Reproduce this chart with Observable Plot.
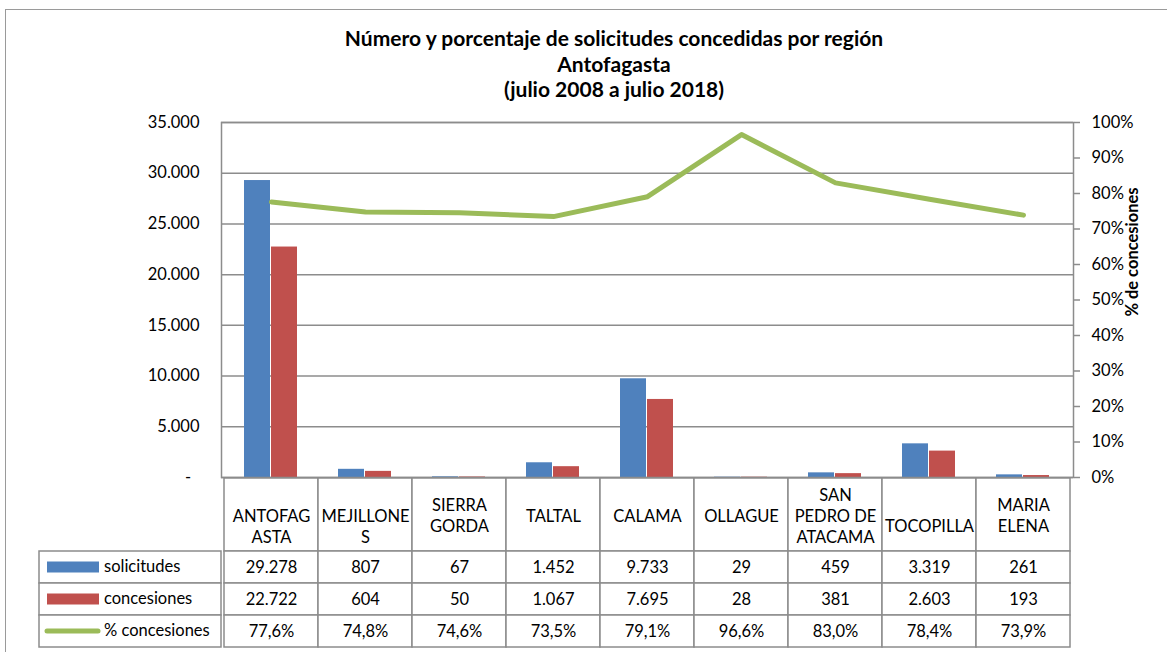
<!DOCTYPE html>
<html>
<head>
<meta charset="utf-8">
<script src="https://cdn.jsdelivr.net/npm/d3@7"></script>
<script src="https://cdn.jsdelivr.net/npm/@observablehq/plot@0.6"></script>
<style>
  html, body { margin: 0; padding: 0; background: #fff; }
  #page { position: relative; width: 1167px; height: 652px; overflow: hidden; font-family: Lato, "Open Sans", sans-serif; color: #000; }
  #border { position: absolute; left: 5px; top: 9px; width: 1400px; height: 800px; border-top: 1.5px solid #9a9a9a; border-left: 1.5px solid #9a9a9a; }
  #title { position: absolute; left: 0; top: 25px; width: 1228px; text-align: center; font-weight: bold; font-size: 21px; line-height: 25.5px; }
  #charts { position: absolute; left: 0; top: 100px; width: 1167px; }
  #charts svg { display: block; }
</style>
</head>
<body>
<div id="page">
  <div id="border"></div>
  <div id="title"></div>
  <div id="charts"></div>
</div>
<script>
// ---- data ----
const titleLines = ["Número y porcentaje de solicitudes concedidas por región", "Antofagasta", "(julio 2008 a julio 2018)"];
const categories = ["ANTOFAGASTA", "MEJILLONES", "SIERRA GORDA", "TALTAL", "CALAMA", "OLLAGUE", "SAN PEDRO DE ATACAMA", "TOCOPILLA", "MARIA ELENA"];
const headerLabels = ["\u00a0\nANTOFAG\nASTA", "\u00a0\nMEJILLONE\nS", "SIERRA\nGORDA", "TALTAL", "CALAMA", "OLLAGUE", "SAN\nPEDRO DE\nATACAMA", "\u00a0\nTOCOPILLA", "MARIA\nELENA"];
const solicitudes = [29278, 807, 67, 1452, 9733, 29, 459, 3319, 261];
const concesiones = [22722, 604, 50, 1067, 7695, 28, 381, 2603, 193];
const pctConcesiones = [77.6, 74.8, 74.6, 73.5, 79.1, 96.6, 83.0, 78.4, 73.9];
const seriesNames = ["solicitudes", "concesiones", "% concesiones"];
const yTicks = [0, 5000, 10000, 15000, 20000, 25000, 30000, 35000];
const pctTicks = [0, 10, 20, 30, 40, 50, 60, 70, 80, 90, 100];
const rightAxisTitle = "% de concesiones";

// ---- styles ----
const blue = "#4F81BD", red = "#C0504D", green = "#9BBB59", gray = "#8c8c8c";
const font = "Lato, 'Open Sans', sans-serif";
const FS = 16.5;
const yMax = 35000;
const pctToY = p => p / 100 * yMax;
const fmtNum = d => d3.format(",")(d).replace(/,/g, ".");
const fmtPct = d => d.toFixed(1).replace(".", ",") + "%";
const ML = 221, MR = 94, W = 1167;
const baseStyle = {fontFamily: font, fontSize: FS + "px", color: "#000", overflow: "visible", background: "transparent"};

document.getElementById("title").innerHTML = titleLines.map(t => `<div>${t}</div>`).join("");

const rows = categories.map((c, i) => ({cat: c, label: headerLabels[i], sol: solicitudes[i], con: concesiones[i], pct: pctConcesiones[i]}));

// ---- chart ----
const chart = Plot.plot({
  width: W, height: 378,
  marginTop: 22, marginBottom: 1, marginLeft: ML, marginRight: MR,
  style: baseStyle,
  x: {type: "band", domain: categories, padding: 0, axis: null},
  y: {domain: [0, yMax], axis: null, label: null},
  marks: [
    Plot.gridY({ticks: yTicks, stroke: gray, strokeOpacity: 1, strokeWidth: 1.5}),
    Plot.barY(rows, {x: "cat", y: "sol", fill: blue, insetLeft: 20, insetRight: 48}),
    Plot.barY(rows, {x: "cat", y: "con", fill: red, insetLeft: 47, insetRight: 21}),
    Plot.frame({stroke: gray, strokeWidth: 1.5}),
    Plot.line(rows, {x: "cat", y: d => pctToY(d.pct), stroke: green, strokeWidth: 5, strokeLinecap: "round", strokeLinejoin: "round"}),
    Plot.axisY({anchor: "left", ticks: yTicks, tickSize: 0, tickPadding: 22, label: null, fontSize: FS,
      tickFormat: d => d === 0 ? "-\u00a0\u00a0" : fmtNum(d)}),
    Plot.axisY({anchor: "right", ticks: pctTicks.map(pctToY), tickSize: 6, tickPadding: 12, label: null, fontSize: FS,
      stroke: gray, strokeWidth: 1.5, tickFormat: d => Math.round(d / yMax * 100) + "%"}),
    Plot.text([rightAxisTitle], {frameAnchor: "right", textAnchor: "middle", rotate: -90, dx: 59, dy: -48, fontWeight: "bold", fontSize: 16.5})
  ]
});

// ---- header row ----
const header = Plot.plot({
  width: W, height: 73,
  marginTop: 0, marginBottom: 0, marginLeft: ML, marginRight: MR,
  style: baseStyle,
  x: {type: "band", domain: categories, padding: 0, axis: null},
  marks: [
    Plot.cell(rows, {x: "cat", fill: "white", stroke: gray, strokeWidth: 1.5}),
    Plot.text(rows, {x: "cat", text: "label", lineAnchor: "middle", lineHeight: 1.28, fontSize: FS, fill: "#000"})
  ]
});

// ---- data table ----
const tableData = rows.flatMap(r => [
  {cat: r.cat, row: seriesNames[0], text: fmtNum(r.sol)},
  {cat: r.cat, row: seriesNames[1], text: fmtNum(r.con)},
  {cat: r.cat, row: seriesNames[2], text: fmtPct(r.pct)}
]);
const swatchColors = [blue, red, green];
const legendLeft = 39;

function legendColumn(index, scales, values, dimensions) {
  const g = d3.create("svg:g");
  const y = scales.y;
  const mt = dimensions && dimensions.marginTop != null ? dimensions.marginTop : 0;
  const mb = dimensions && dimensions.marginBottom != null ? dimensions.marginBottom : 1;
  const h = dimensions && dimensions.height ? dimensions.height : 97;
  const ml = dimensions && dimensions.marginLeft != null ? dimensions.marginLeft : ML;
  const bw = y && y.bandwidth ? y.bandwidth() : (h - mt - mb) / seriesNames.length;
  seriesNames.forEach((name, i) => {
    const y0 = y ? y(name) : mt + i * bw;
    g.append("rect").attr("x", legendLeft).attr("y", y0).attr("width", ml - legendLeft).attr("height", bw)
      .attr("fill", "white").attr("stroke", gray).attr("stroke-width", 1.5);
    const cy = y0 + bw / 2;
    if (i < 2) {
      g.append("rect").attr("x", 47).attr("y", cy - 5.5).attr("width", 52).attr("height", 11).attr("fill", swatchColors[i]);
    } else {
      g.append("line").attr("x1", 47).attr("x2", 98).attr("y1", cy).attr("y2", cy)
        .attr("stroke", swatchColors[i]).attr("stroke-width", 5).attr("stroke-linecap", "round");
    }
    g.append("text").attr("x", 104).attr("y", cy).attr("dy", "0.32em").attr("fill", "#000")
      .attr("text-anchor", "start").attr("font-size", FS).text(name);
  });
  return g.node();
}

const table = Plot.plot({
  width: W, height: 97,
  marginTop: 0, marginBottom: 1, marginLeft: ML, marginRight: MR,
  style: baseStyle,
  x: {type: "band", domain: categories, padding: 0, axis: null},
  y: {type: "band", domain: seriesNames, padding: 0, axis: null},
  marks: [
    Plot.cell(tableData, {x: "cat", y: "row", fill: "white", stroke: gray, strokeWidth: 1.5}),
    Plot.text(tableData, {x: "cat", y: "row", text: "text", fontSize: FS, fill: "#000"}),
    legendColumn
  ]
});

const holder = document.getElementById("charts");
holder.append(chart, header, table);
</script>
</body>
</html>
